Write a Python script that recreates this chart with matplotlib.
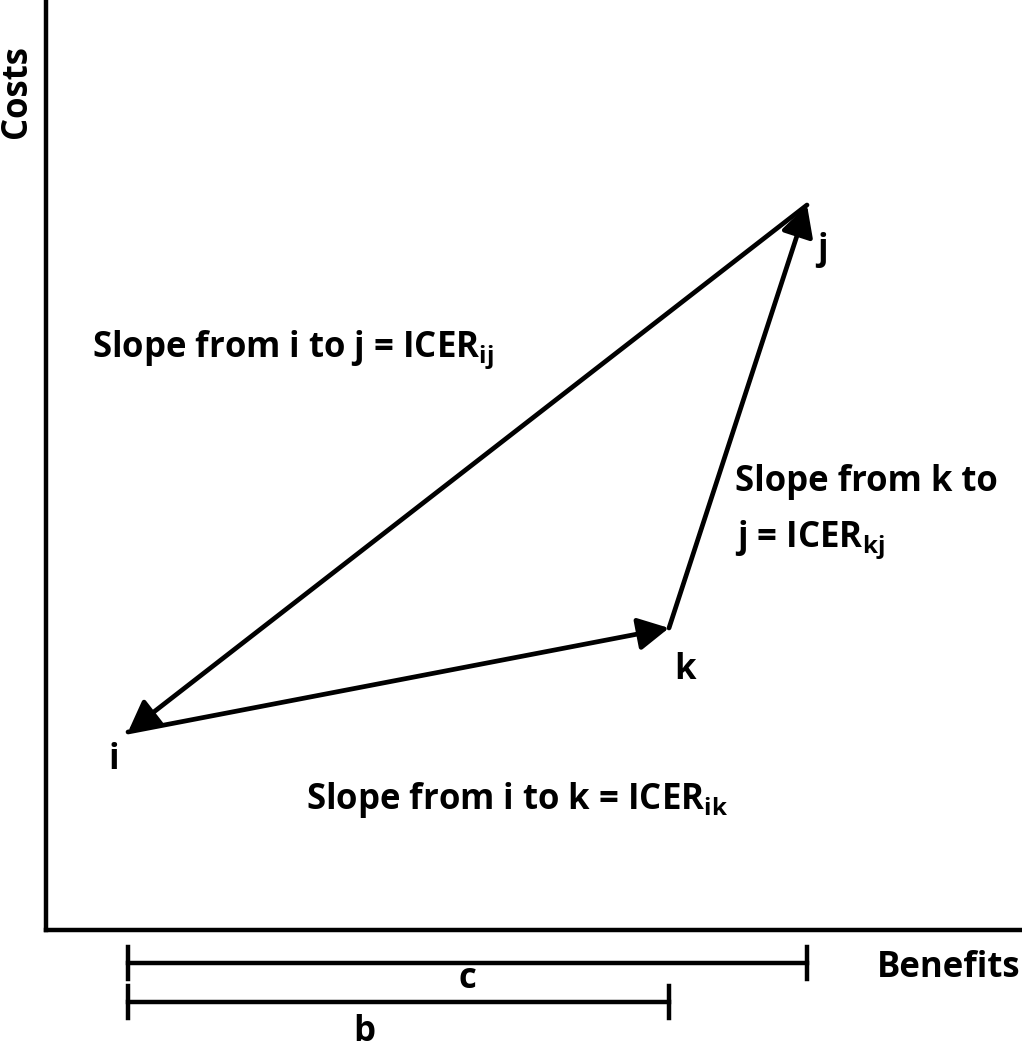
import matplotlib
matplotlib.use("Agg")
import matplotlib.pyplot as plt

plt.rcParams["font.family"] = ["Open Sans", "DejaVu Sans"]
plt.rcParams["font.weight"] = "bold"
plt.rcParams["mathtext.fontset"] = "custom"
plt.rcParams["mathtext.rm"] = "Open Sans:bold"
plt.rcParams["mathtext.it"] = "Open Sans:bold"
plt.rcParams["mathtext.bf"] = "Open Sans:bold"

# strategies: benefit (x) and cost (y), in axis units
names = ["i", "k", "j"]
benefit = [82, 623, 761]
cost = [198, 302, 725]
# arrows (from, to)
arrows = [("j", "i"), ("i", "k"), ("k", "j")]
# brackets below the axis: label, from, to
brackets = [("c", "i", "j"), ("b", "i", "k")]

W, H = 1022, 1050
fig = plt.figure(figsize=(W / 100, H / 100), dpi=100)
ax = fig.add_axes([46 / W, 120 / H, 976 / W, 930 / H])
ax.set_xlim(0, 976)
ax.set_ylim(0, 930)
for s in ["top", "right"]:
    ax.spines[s].set_visible(False)
for s in ["left", "bottom"]:
    ax.spines[s].set_linewidth(3.2)
ax.set_xticks([]); ax.set_yticks([])

pos = {n: (b, c) for n, b, c in zip(names, benefit, cost)}
for a, b in arrows:
    ax.annotate("", xy=pos[b], xytext=pos[a],
                arrowprops=dict(arrowstyle="-|>,head_length=0.85,head_width=0.45",
                                lw=3.4, color="black", shrinkA=0, shrinkB=0,
                                mutation_scale=22))

fs = 25
ax.text(pos["i"][0] - 14, pos["i"][1] - 28, "i", fontsize=fs, ha="center", va="center")
ax.text(pos["k"][0] + 16, pos["k"][1] - 42, "k", fontsize=fs, ha="center", va="center")
ax.text(pos["j"][0] + 15, pos["j"][1] - 45, "j", fontsize=fs, ha="center", va="center")

ax.text(46, 580, r"Slope from i to j = ICER$_{\mathrm{ij}}$", fontsize=fs, va="center")
ax.text(689, 448, "Slope from k to", fontsize=fs, va="center")
ax.text(689, 390, r"j = ICER$_{\mathrm{kj}}$", fontsize=fs, va="center")
ax.text(260, 130, r"Slope from i to k = ICER$_{\mathrm{ik}}$", fontsize=fs, va="center")

ax.text(974, -38, "Benefits", fontsize=fs, ha="right", va="center", clip_on=False)
ax.text(-29, 839, "Costs", fontsize=fs, ha="center", va="center", rotation=90,
        clip_on=False)

ys = [-33, -72]
label_off = [(0, -16), (-34, -30)]
for (lab, a, b), y, (dx, dy) in zip(brackets, ys, label_off):
    x0, x1 = pos[a][0], pos[b][0]
    ax.plot([x0, x1], [y, y], color="black", lw=3.2, clip_on=False)
    for x in (x0, x1):
        ax.plot([x, x], [y - 16, y + 16], color="black", lw=3.2, clip_on=False)
    ax.text((x0 + x1) / 2 + dx, y + dy, lab, fontsize=fs, ha="center", va="center",
            clip_on=False)

fig.savefig("out.png", dpi=100)
